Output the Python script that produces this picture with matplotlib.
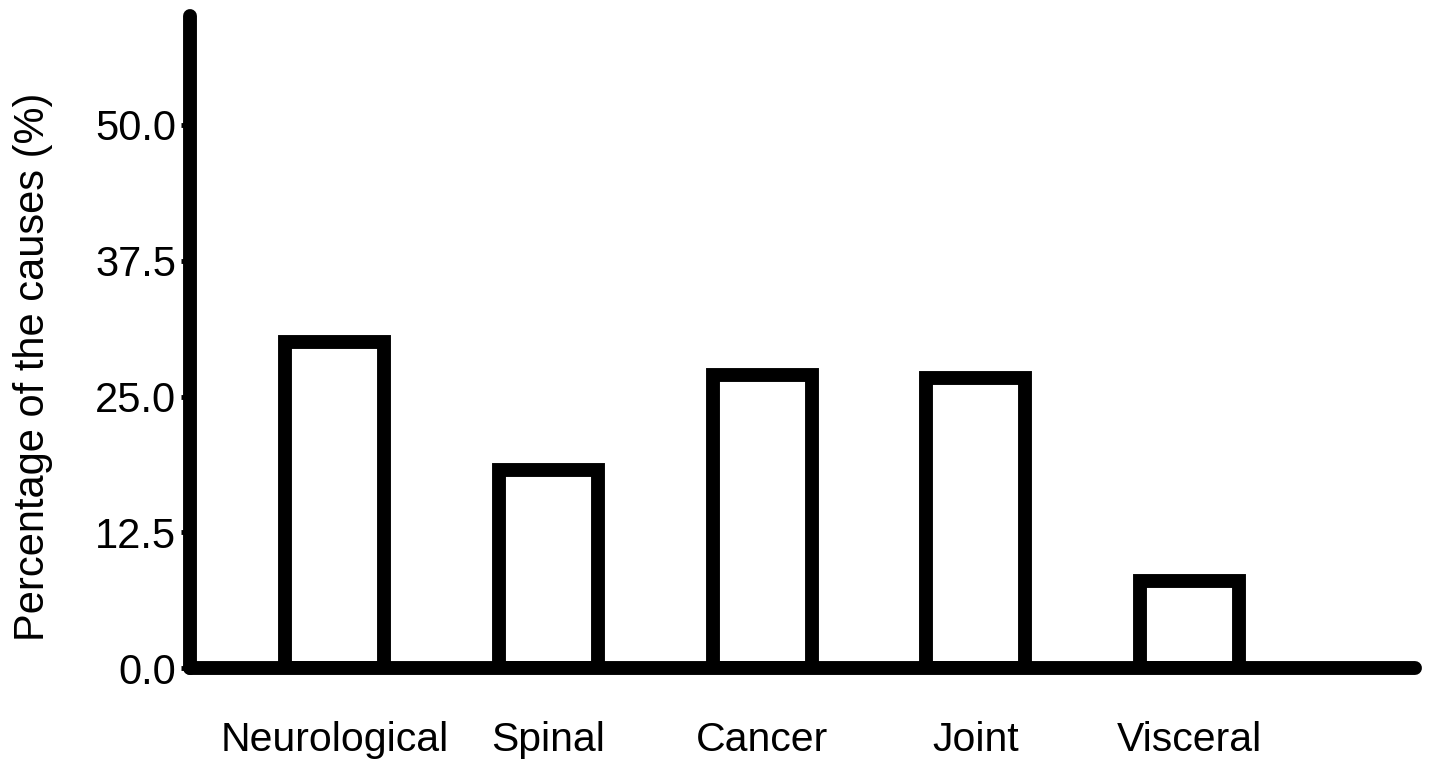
import matplotlib
matplotlib.use("Agg")
import matplotlib.pyplot as plt

categories = ["Neurological", "Spinal", "Cancer", "Joint", "Visceral"]
values = [30.0, 18.2, 27.0, 26.7, 8.0]
yticks = [0.0, 12.5, 25.0, 37.5, 50.0]
ytick_labels = ["0.0", "12.5", "25.0", "37.5", "50.0"]

plt.rcParams['font.family'] = ['Liberation Sans', 'DejaVu Sans']

W, H = 1441, 771
fig = plt.figure(figsize=(W / 100, H / 100), dpi=100)
left_px, right_px, bottom_px, top_px = 190, 1415, 668, 16.4
ax = fig.add_axes([left_px / W, (H - bottom_px) / H,
                   (right_px - left_px) / W, (bottom_px - top_px) / H])

x = list(range(len(categories)))
ax.bar(x, values, width=0.463, facecolor='white', edgecolor='black',
       linewidth=10, zorder=3)

ax.set_xlim(-0.676, 5.054)
ax.set_ylim(0, 60)

for s in ['top', 'right']:
    ax.spines[s].set_visible(False)
for s in ['left', 'bottom']:
    ax.spines[s].set_linewidth(10)
    ax.spines[s].set_capstyle('round')
    ax.spines[s].set_zorder(4)

ax.set_yticks(yticks)
ax.set_yticklabels(ytick_labels, fontsize=30)
ax.tick_params(axis='y', direction='out', length=6.5, width=3.5, pad=3.6, colors='black')

ax.set_xticks(x)
ax.set_xticklabels(categories, fontsize=29.5)
ax.tick_params(axis='x', length=0, pad=38)

ax.set_ylabel("Percentage of the causes (%)", fontsize=30, va='center', ha='center')
ax.yaxis.set_label_coords((33 - left_px) / (right_px - left_px),
                          (bottom_px - 367) / (bottom_px - top_px))

fig.savefig("out.png", dpi=100)
